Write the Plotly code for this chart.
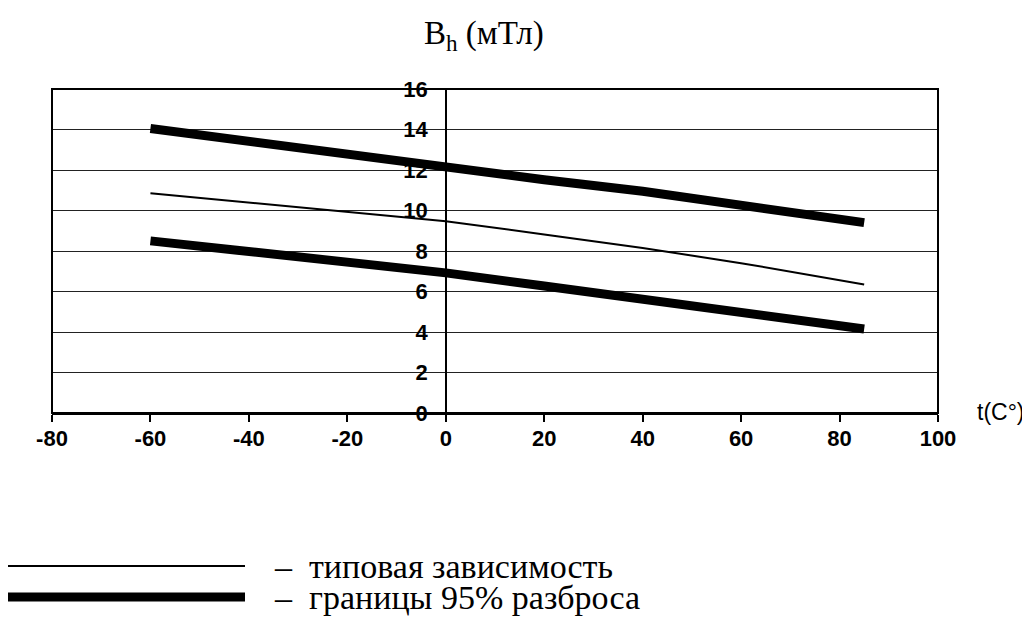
import plotly.graph_objects as go

# ---- data ----
t_vals = [-60, -40, -20, 0, 20, 40, 60, 85]
b_typical = [10.85, 10.40, 9.95, 9.47, 8.82, 8.15, 7.40, 6.35]
b_upper = [14.05, 13.40, 12.75, 12.10, 11.52, 10.95, 10.30, 9.40]
b_lower = [8.50, 7.97, 7.45, 6.92, 6.27, 5.60, 4.98, 4.15]

x_ticks = [-80, -60, -40, -20, 0, 20, 40, 60, 80, 100]
y_ticks = [0, 2, 4, 6, 8, 10, 12, 14, 16]

title_text = "B<sub>h</sub> (мТл)"
x_label = "t(C°)"
legend_typical = "–  типовая зависимость"
legend_bounds = "–  границы 95% разброса"

# page body has an 8px margin, so the figure is drawn 8px in from the window corner
OFF = 8
W, H = 1030 - OFF, 628 - OFF
PLOT_L, PLOT_R, PLOT_T, PLOT_B = 52, 938, 89, 413   # plot box in window pixels
PW, PH = PLOT_R - PLOT_L, PLOT_B - PLOT_T
L, T = PLOT_L - OFF, PLOT_T - OFF
R, B = W - L - PW, H - T - PH


def px(x):
    return (x - PLOT_L) / PW


def py(y):
    return (PLOT_B - y) / PH


tick_font = dict(family="Liberation Sans, Arial", size=22, color="black", weight="bold")
serif = "Liberation Serif, Times New Roman"

fig = go.Figure()
fig.add_trace(go.Scatter(x=t_vals, y=b_typical, mode="lines",
                         line=dict(color="black", width=2), showlegend=False))
fig.add_trace(go.Scatter(x=t_vals, y=b_upper, mode="lines",
                         line=dict(color="black", width=9), showlegend=False))
fig.add_trace(go.Scatter(x=t_vals, y=b_lower, mode="lines",
                         line=dict(color="black", width=9), showlegend=False))

fig.update_layout(
    width=W, height=H,
    margin=dict(l=L, r=R, t=T, b=B, autoexpand=False),
    paper_bgcolor="white", plot_bgcolor="white",
    showlegend=False,
    xaxis=dict(range=[-80, 100], tickvals=x_ticks, ticktext=[str(v) for v in x_ticks],
               showgrid=False, zeroline=True, zerolinecolor="black", zerolinewidth=1.5,
               ticks="outside", ticklen=7, tickwidth=1.5, tickcolor="black",
               tickfont=tick_font, ticklabelstandoff=-2, automargin=False,
               showline=True, linecolor="black", linewidth=2),
    yaxis=dict(range=[0, 16], tickvals=y_ticks, ticktext=[str(v) for v in y_ticks],
               anchor="free", position=80 / 180, automargin=False,
               showgrid=True, gridcolor="#222", gridwidth=1,
               zeroline=False, showline=False, ticks="",
               tickfont=tick_font, ticklabelstandoff=18),
)

# plot frame
fig.add_shape(type="rect", xref="paper", yref="paper", x0=0, x1=1, y0=0, y1=1,
              line=dict(color="black", width=2), layer="above")

# title and axis label
fig.add_annotation(text=title_text, xref="paper", yref="paper", x=px(484), y=py(36),
                   showarrow=False, xanchor="center", yanchor="middle",
                   font=dict(family=serif, size=33, color="black"))
fig.add_annotation(text=x_label, xref="paper", yref="paper", x=px(1001), y=py(412),
                   showarrow=False, xanchor="center", yanchor="middle",
                   font=dict(family="Liberation Sans, Arial", size=23, color="black"))

# custom legend
for yy, w, txt in [(566, 2, legend_typical), (597, 9, legend_bounds)]:
    fig.add_shape(type="line", xref="paper", yref="paper",
                  x0=px(8), x1=px(245), y0=py(yy), y1=py(yy),
                  line=dict(color="black", width=w))
    fig.add_annotation(text=txt, xref="paper", yref="paper", x=px(272), y=py(yy),
                       showarrow=False, xanchor="left", yanchor="middle",
                       font=dict(family=serif, size=34, color="black"))

fig.write_html("out.html")
